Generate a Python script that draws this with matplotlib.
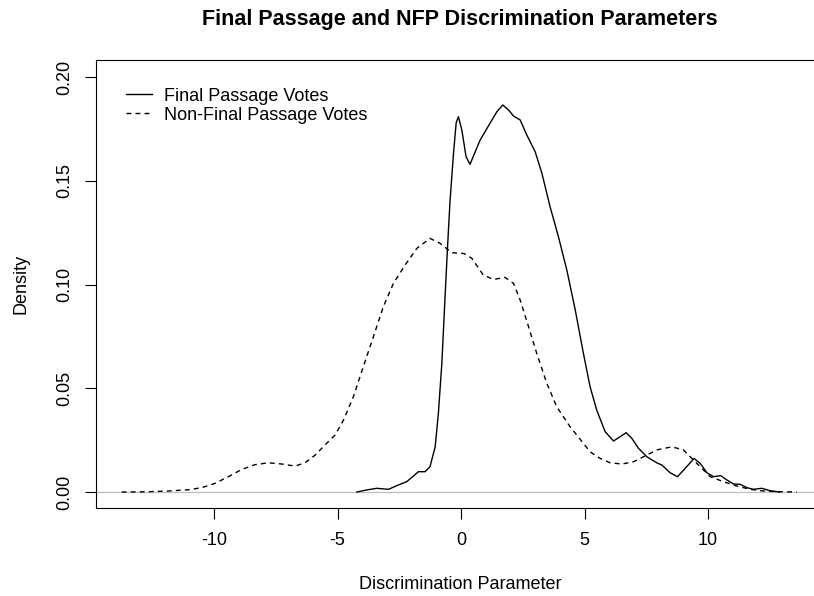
import matplotlib.pyplot as plt

plt.rcParams['font.family'] = ['Liberation Sans', 'DejaVu Sans']
plt.rcParams['axes.unicode_minus'] = False

# Final passage votes (solid)
fp_x = [-4.22, -3.82, -3.41, -2.94, -2.54, -2.20, -1.93, -1.73, -1.46, -1.26,
        -1.05, -0.92, -0.78, -0.65, -0.55, -0.45, -0.31, -0.20, -0.11, 0.03,
        0.20, 0.36, 0.57, 0.77, 1.17, 1.45, 1.69, 1.92, 2.12, 2.39,
        2.66, 3.00, 3.27, 3.60, 3.94, 4.28, 4.62, 4.95, 5.22, 5.49,
        5.83, 6.17, 6.44, 6.68, 6.91, 7.18, 7.52, 7.92, 8.13, 8.46,
        8.76, 9.07, 9.43, 9.68, 9.95, 10.22, 10.51, 10.76, 11.03, 11.30,
        11.57, 11.84, 12.17, 12.51, 12.91]
fp_y = [0.0, 0.0010, 0.0018, 0.0013, 0.0034, 0.0050, 0.0077, 0.0098, 0.0098, 0.0122,
        0.0218, 0.038, 0.062, 0.094, 0.118, 0.140, 0.163, 0.178, 0.181, 0.1745,
        0.1617, 0.158, 0.164, 0.1697, 0.1778, 0.1834, 0.1866, 0.1842, 0.1813, 0.1794,
        0.1721, 0.164, 0.1537, 0.1376, 0.1231, 0.107, 0.0878, 0.0669, 0.0508, 0.0395,
        0.0291, 0.0246, 0.0267, 0.0286, 0.0259, 0.0211, 0.017, 0.0141, 0.013, 0.0093,
        0.0074, 0.0114, 0.0162, 0.0138, 0.0093, 0.0074, 0.0079, 0.0058, 0.0039, 0.0037,
        0.0021, 0.0013, 0.0018, 0.0006, 0.0]

# Non-final passage votes (dashed)
nfp_x = [-13.74, -12.79, -11.85, -11.04, -10.50, -9.96, -9.42, -8.88, -8.34, -7.80,
         -7.26, -6.72, -6.32, -5.91, -5.51, -5.10, -4.76, -4.36, -3.96, -3.55,
         -3.15, -2.74, -2.27, -1.79, -1.26, -0.85, -0.38, 0.12, 0.43, 0.90,
         1.31, 1.78, 2.12, 2.39, 2.73, 3.06, 3.47, 3.87, 4.41, 4.95,
         5.22, 5.63, 6.03, 6.51, 6.98, 7.45, 7.92, 8.53, 9.00, 9.34,
         9.68, 10.08, 10.62, 11.16, 11.70, 12.24, 12.78, 13.59]
nfp_y = [0.0, 0.0001, 0.0005, 0.0011, 0.0021, 0.0042, 0.0074, 0.0109, 0.0132, 0.0141,
         0.0135, 0.0125, 0.0141, 0.0178, 0.0227, 0.0275, 0.0347, 0.046, 0.0604, 0.0749,
         0.0893, 0.1006, 0.1094, 0.1175, 0.1223, 0.1199, 0.1154, 0.1150, 0.1127, 0.1046,
         0.1025, 0.1035, 0.1006, 0.0926, 0.0797, 0.0669, 0.0524, 0.0411, 0.0315, 0.0235,
         0.0194, 0.0162, 0.0141, 0.0135, 0.0146, 0.0174, 0.0203, 0.0218, 0.0203, 0.0162,
         0.0122, 0.0074, 0.005, 0.0029, 0.0013, 0.0005, 0.0002, 0.0]

x_ticks = [-10, -5, 0, 5, 10]
y_ticks = [0.00, 0.05, 0.10, 0.15, 0.20]

fig = plt.figure(figsize=(8.14, 5.96), dpi=100)
# plot region runs past the right edge, as in the cropped reference
ax = fig.add_axes([96 / 814, 88 / 596, 728 / 814, 448 / 596])

ax.axhline(0, color='#bebebe', lw=0.9, zorder=1)
ax.plot(fp_x, fp_y, color='black', lw=1.0, label='Final Passage Votes')
ax.plot(nfp_x, nfp_y, color='black', lw=1.0, dashes=(3.5, 3),
        label='Non-Final Passage Votes')

ax.set_xlim(-14.78, 14.69)
ax.set_ylim(-0.0077, 0.2083)
ax.set_xticks(x_ticks)
ax.set_yticks(y_ticks)
ax.set_yticklabels(['%.2f' % v for v in y_ticks], rotation=90, va='center')
ax.tick_params(direction='out', length=8, width=0.8, labelsize=13)
ax.tick_params(axis='x', pad=9.5)
ax.tick_params(axis='y', pad=8.5)
for s in ax.spines.values():
    s.set_linewidth(0.8)

ax.set_xlabel('Discrimination Parameter', fontsize=13, labelpad=19)
ax.set_ylabel('Density', fontsize=13, labelpad=19)
ax.set_title('Final Passage and NFP Discrimination Parameters',
             fontsize=15.5, fontweight='bold', pad=25)

ax.legend(loc='upper left', frameon=False, fontsize=13, handlelength=1.45,
          handletextpad=0.67, labelspacing=0.1, borderpad=0, borderaxespad=0,
          bbox_to_anchor=(0.0412, 0.938))

fig.savefig('out.png', dpi=100)
